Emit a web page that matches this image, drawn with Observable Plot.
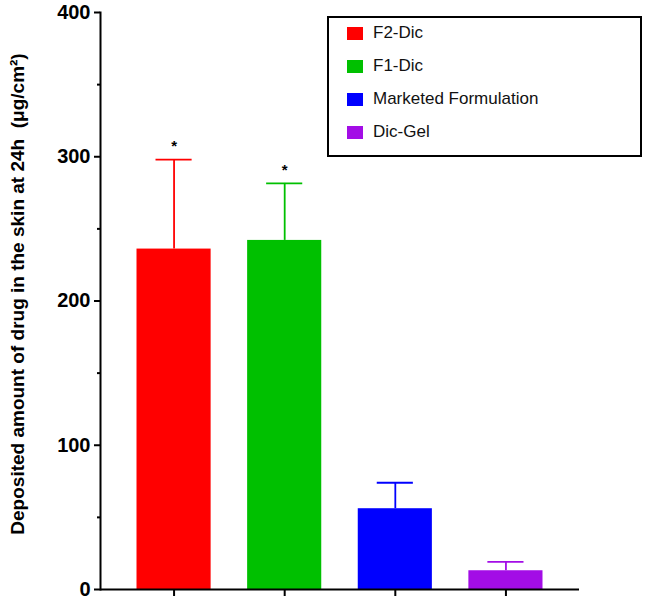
<!DOCTYPE html>
<html><head><meta charset="utf-8">
<script src="https://cdn.jsdelivr.net/npm/d3@7"></script>
<script src="https://cdn.jsdelivr.net/npm/@observablehq/plot@0.6"></script>
<style>
body{margin:0;background:#fff;}
#wrap{position:relative;width:645px;height:602px;font-family:"Liberation Sans",Arial,sans-serif;}
#legendBox{position:absolute;left:327px;top:16px;width:315px;height:141px;border:2px solid #000;box-sizing:border-box;}
#legendRows{position:absolute;left:347px;top:16.5px;}
.row{height:33px;display:flex;align-items:center;font-size:17px;color:#111;white-space:nowrap;}
.sw{width:16px;height:13px;margin-right:10px;flex:none;}
</style>
</head><body>
<div id="wrap"><div id="legendBox"></div><div id="legendRows"></div></div>
<script>
const categories = ["F2-Dic", "F1-Dic", "Marketed Formulation", "Dic-Gel"];
const means = [236, 242, 56, 13];
const errors = [62, 39.5, 18, 6.2];
const colors = ["#FF0000", "#00C000", "#0000FF", "#A30DE6"];
const significance = ["*", "*", "", ""];
const yTicks = [0, 100, 200, 300, 400];
const yMinorTicks = [50, 150, 250, 350];
const yLabel = "Deposited amount of drug in the skin at 24h  (μg/cm²)";

const data = categories.map((c, i) => ({
  group: c, mean: means[i], upper: means[i] + errors[i], sig: significance[i]
}));

const chart = Plot.plot({
  width: 645, height: 602,
  marginLeft: 100, marginRight: 66, marginTop: 12, marginBottom: 13,
  style: {fontFamily: "Liberation Sans, Arial, sans-serif", background: "white", color: "#000"},
  x: {domain: categories, range: [100, 579], padding: 0.33, round: false, axis: null},
  y: {domain: [0, 400], axis: null},
  color: {domain: categories, range: colors},
  marks: [
    Plot.ruleX(data, {x: "group", y1: "mean", y2: "upper", stroke: "group", strokeWidth: 1.8}),
    Plot.tickY(data, {x: "group", y: "upper", stroke: "group", strokeWidth: 1.8, insetLeft: 19, insetRight: 19}),
    Plot.barY(data, {x: "group", y: "mean", fill: "group"}),
    Plot.text(data, {x: "group", y: "upper", text: "sig", dy: -13, fontSize: 15, fontWeight: "bold"}),
    Plot.axisY({ticks: yTicks, tickSize: 6, tickPadding: 4, fontSize: 20, fontWeight: "bold", strokeWidth: 2, label: null}),
    Plot.axisY({ticks: yMinorTicks, tickSize: 3, tickFormat: () => "", strokeWidth: 2, label: null}),
    Plot.axisX({tickSize: 7, tickFormat: () => "", strokeWidth: 2, label: null}),
    Plot.frame({anchor: "left", strokeWidth: 2}),
    Plot.ruleY([0], {strokeWidth: 2}),
    Plot.text([yLabel], {frameAnchor: "left", textAnchor: "middle", rotate: -90, dx: -83, dy: -7, fontSize: 19, fontWeight: "bold"})
  ]
});
document.getElementById("wrap").prepend(chart);

const rows = document.getElementById("legendRows");
categories.forEach((c, i) => {
  const r = document.createElement("div");
  r.className = "row";
  const s = document.createElement("span");
  s.className = "sw"; s.style.background = colors[i];
  r.appendChild(s);
  r.appendChild(document.createTextNode(c));
  rows.appendChild(r);
});
</script>
</body></html>
